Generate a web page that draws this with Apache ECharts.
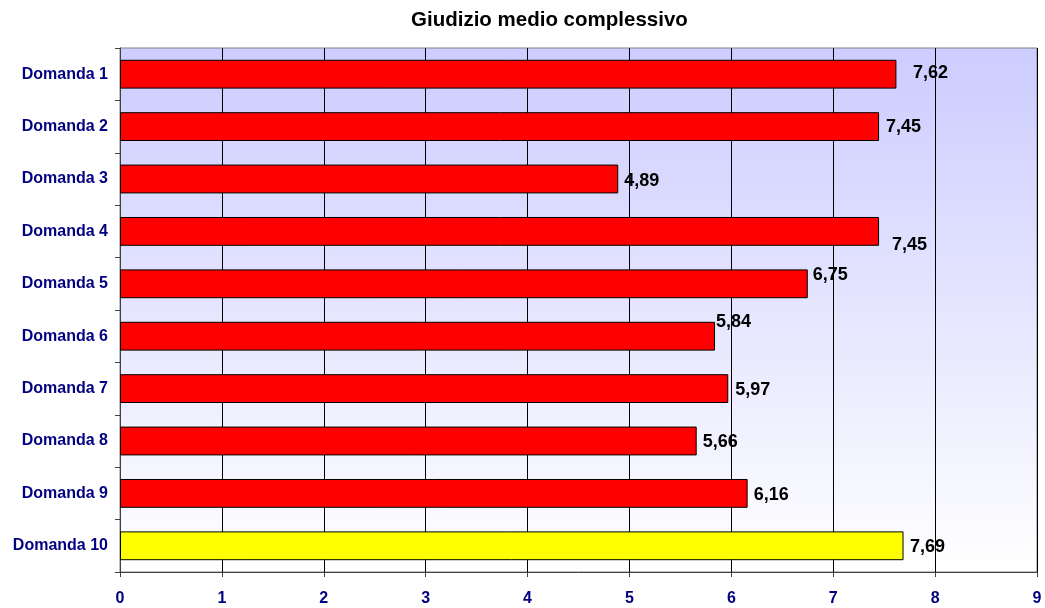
<!DOCTYPE html>
<html>
<head>
<meta charset="utf-8">
<script src="https://cdn.jsdelivr.net/npm/echarts@6/dist/echarts.min.js"></script>
<style>
html,body{margin:0;padding:0;background:#fff;}
#main{width:1045px;height:608px;}
</style>
</head>
<body>
<div id="main"></div>
<script>
var categories = ['Domanda 1','Domanda 2','Domanda 3','Domanda 4','Domanda 5','Domanda 6','Domanda 7','Domanda 8','Domanda 9','Domanda 10'];
var values = [7.62, 7.45, 4.89, 7.45, 6.75, 5.84, 5.97, 5.66, 6.16, 7.69];
var barColors = ['#FF0000','#FF0000','#FF0000','#FF0000','#FF0000','#FF0000','#FF0000','#FF0000','#FF0000','#FFFF00'];
var xTicks = [0,1,2,3,4,5,6,7,8,9];
var labelOffsets = [[11.5,-1],[2,0.5],[1,2],[8,13.6],[0,-9],[-4,-14],[2,1.4],[1,0.7],[1,1.6],[1.5,1]];

var FONT = 'Arial, "Liberation Sans", sans-serif';
var chart = echarts.init(document.getElementById('main'));
var data = values.map(function(v, i){
  return {
    value: v,
    itemStyle: {color: barColors[i]},
    label: {offset: labelOffsets[i]}
  };
});
chart.setOption({
  backgroundColor: '#ffffff',
  animation: false,
  title: {
    text: 'Giudizio medio complessivo',
    left: 406,
    top: 5,
    textStyle: {fontFamily: FONT, fontWeight: 'bold', fontSize: 20.5, color: '#000'}
  },
  grid: {
    left: 120, right: 8, top: 48, bottom: 36,
    show: true,
    borderColor: '#808080',
    borderWidth: 1,
    backgroundColor: new echarts.graphic.LinearGradient(0, 0, 0, 1, [
      {offset: 0, color: '#CCCCFF'},
      {offset: 1, color: '#FFFFFF'}
    ])
  },
  xAxis: {
    type: 'value',
    min: xTicks[0],
    max: xTicks[xTicks.length - 1],
    interval: 1,
    axisLine: {show: true, lineStyle: {color: '#404040', width: 1}},
    axisTick: {show: true, length: 5, lineStyle: {color: '#404040'}},
    splitLine: {show: true, lineStyle: {color: '#000000', width: 1}},
    axisLabel: {margin: 19, color: '#000080', fontFamily: FONT, fontWeight: 'bold', fontSize: 16,
      formatter: function(v){ return String(v); }}
  },
  yAxis: {
    type: 'category',
    inverse: true,
    data: categories,
    axisLine: {show: true, lineStyle: {color: '#404040', width: 1}},
    axisTick: {show: true, length: 5, lineStyle: {color: '#404040'}},
    splitLine: {show: false},
    axisLabel: {margin: 12, color: '#000080', fontFamily: FONT, fontWeight: 'bold', fontSize: 16}
  },
  series: [{
    type: 'bar',
    data: data,
    barCategoryGap: '45%',
    itemStyle: {borderColor: '#000000', borderWidth: 1},
    label: {
      show: true,
      position: 'right',
      distance: 5,
      color: '#000000',
      fontFamily: FONT,
      fontWeight: 'bold',
      fontSize: 18,
      formatter: function(p){ return p.value.toFixed(2).replace('.', ','); }
    }
  }]
});
</script>
</body>
</html>
